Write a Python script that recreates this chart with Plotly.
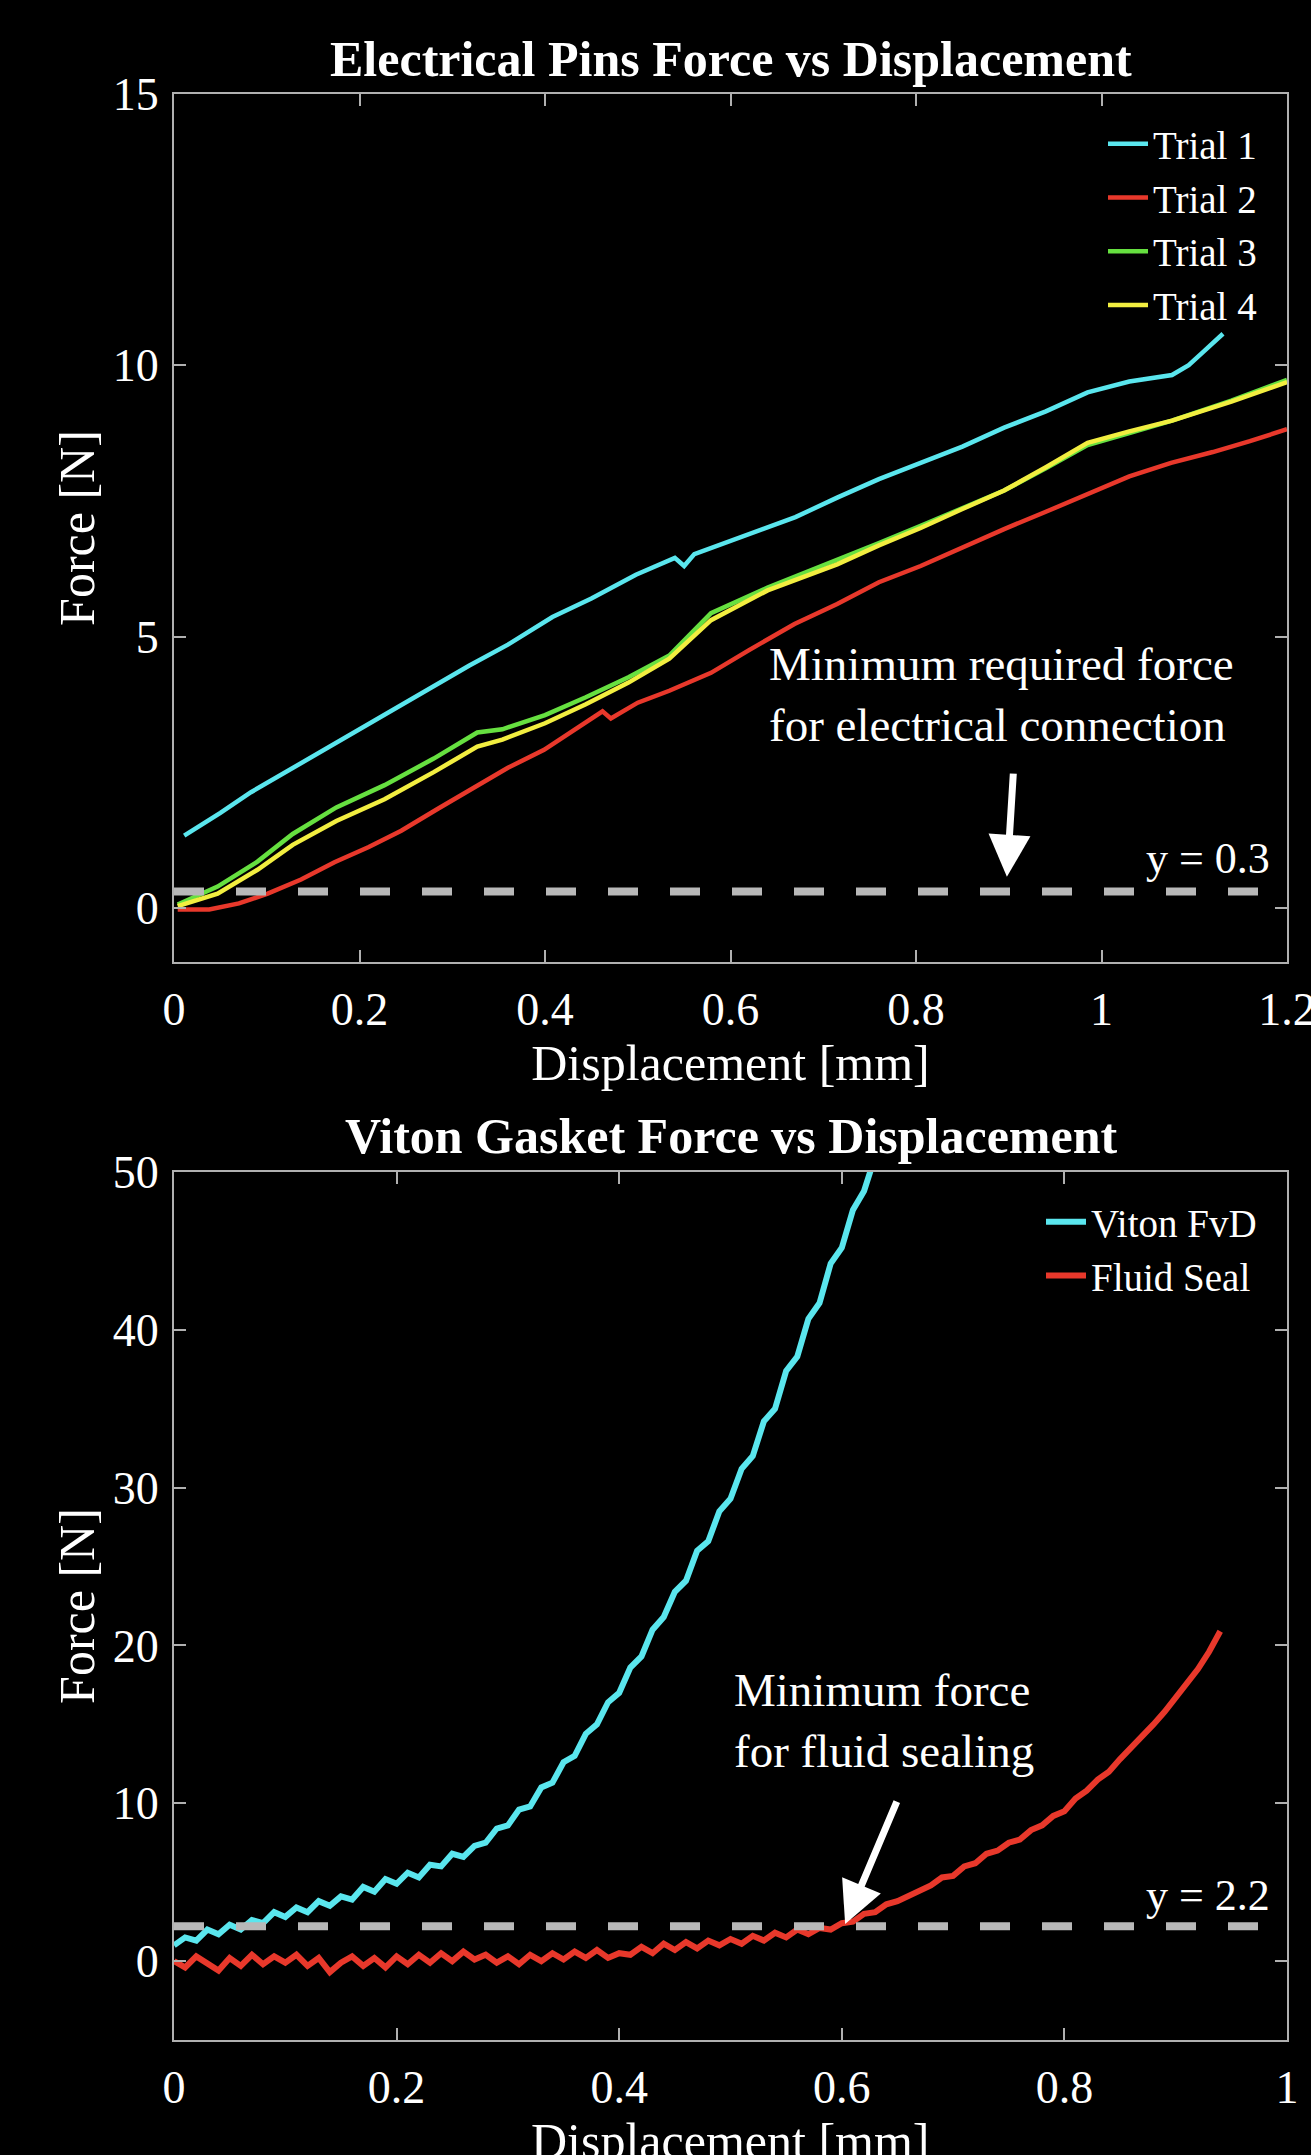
import plotly.graph_objects as go

# ---------------- data: electrical pins ----------------
trial1_x = [0.011, 0.05, 0.083, 0.12, 0.16, 0.2, 0.24, 0.28, 0.318, 0.36, 0.408, 0.45, 0.498, 0.54, 0.55, 0.561, 0.624,
            0.67, 0.715, 0.76, 0.805, 0.85, 0.895, 0.94, 0.985, 1.03, 1.076, 1.094, 1.11, 1.131]
trial1_y = [1.33, 1.75, 2.13, 2.5, 2.9, 3.29, 3.7, 4.1, 4.46, 4.85, 5.36, 5.7, 6.14, 6.45, 6.3, 6.52, 6.91,
            7.2, 7.56, 7.9, 8.2, 8.5, 8.85, 9.15, 9.5, 9.7, 9.82, 10.0, 10.25, 10.58]

trial2_x = [0.004, 0.038, 0.07, 0.101, 0.137, 0.173, 0.21, 0.245, 0.285, 0.327, 0.36, 0.399, 0.43, 0.462, 0.471, 0.5,
            0.534, 0.579, 0.62, 0.669, 0.715, 0.76, 0.805, 0.85, 0.895, 0.94, 0.985, 1.03, 1.075, 1.12, 1.16, 1.2]
trial2_y = [-0.03, -0.03, 0.08, 0.26, 0.52, 0.84, 1.12, 1.42, 1.83, 2.26, 2.58, 2.91, 3.25, 3.62, 3.49, 3.78,
            4.0, 4.33, 4.75, 5.23, 5.6, 6.0, 6.3, 6.65, 6.98, 7.3, 7.62, 7.95, 8.2, 8.4, 8.6, 8.82]

trial3_x = [0.004, 0.047, 0.09, 0.128, 0.175, 0.227, 0.28, 0.327, 0.354, 0.4, 0.444, 0.49, 0.534, 0.579, 0.64,
            0.715, 0.76, 0.805, 0.85, 0.895, 0.94, 0.985, 1.03, 1.076, 1.14, 1.2]
trial3_y = [0.06, 0.39, 0.85, 1.36, 1.85, 2.26, 2.75, 3.23, 3.29, 3.55, 3.88, 4.25, 4.65, 5.43, 5.9,
            6.4, 6.72, 7.04, 7.36, 7.69, 8.1, 8.53, 8.75, 8.98, 9.35, 9.73]

trial4_x = [0.004, 0.047, 0.09, 0.128, 0.175, 0.227, 0.28, 0.327, 0.354, 0.4, 0.444, 0.49, 0.534, 0.579, 0.64,
            0.715, 0.76, 0.805, 0.85, 0.895, 0.94, 0.985, 1.03, 1.076, 1.14, 1.2]
trial4_y = [0.03, 0.26, 0.7, 1.16, 1.6, 2.0, 2.5, 2.97, 3.1, 3.4, 3.75, 4.15, 4.59, 5.3, 5.85,
            6.33, 6.68, 7.0, 7.35, 7.69, 8.12, 8.57, 8.78, 8.98, 9.33, 9.69]

pins_threshold = 0.3

# ---------------- data: viton gasket ----------------
viton_x = [round(i * 0.01, 2) for i in range(0, 65)]
viton_y = [1.0, 1.5, 1.3, 2.0, 1.7, 2.3, 2.0, 2.6, 2.4, 3.1, 2.8, 3.4, 3.1, 3.8, 3.5, 4.1, 3.9, 4.7, 4.4, 5.2,
           4.9, 5.6, 5.3, 6.1, 6.0, 6.8, 6.6, 7.3, 7.5, 8.4, 8.6, 9.6, 9.8, 11.0, 11.3, 12.6, 13.0, 14.4, 15.0,
           16.4, 17.0, 18.6, 19.3, 21.0, 21.8, 23.4, 24.1, 26.0, 26.6, 28.5, 29.3, 31.2, 32.0, 34.2, 35.0, 37.4,
           38.3, 40.7, 41.7, 44.2, 45.2, 47.6, 48.8, 51.0, 52.5]

seal_x = [round(i * 0.01, 2) for i in range(0, 95)]
seal_y = [0.0, -0.4, 0.3, -0.2, -0.6, 0.2, -0.3, 0.4, -0.2, 0.3, -0.1, 0.4, -0.3, 0.2, -0.7, -0.1, 0.3, -0.3,
          0.2, -0.4, 0.3, -0.2, 0.4, -0.1, 0.5, 0.0, 0.6, 0.1, 0.4, -0.1, 0.3, -0.2, 0.4, 0.0, 0.5, 0.1, 0.6,
          0.2, 0.7, 0.2, 0.5, 0.4, 0.9, 0.5, 1.1, 0.7, 1.2, 0.8, 1.3, 1.0, 1.4, 1.1, 1.6, 1.3, 1.8, 1.5, 2.0,
          1.7, 2.1, 2.0, 2.4, 2.5, 3.0, 3.1, 3.6, 3.8, 4.1, 4.5, 4.8, 5.3, 5.4, 6.0, 6.2, 6.8, 7.0, 7.5, 7.7,
          8.3, 8.6, 9.2, 9.5, 10.3, 10.8, 11.5, 12.0, 12.8, 13.5, 14.2, 15.0, 15.8, 16.7, 17.5, 18.5, 19.6, 20.9]

seal_threshold = 2.2

# ---------------- ticks ----------------
x1_ticks = [0, 0.2, 0.4, 0.6, 0.8, 1, 1.2]
x1_labels = ["0", "0.2", "0.4", "0.6", "0.8", "1", "1.2"]
y1_ticks = [0, 5, 10, 15]
x2_ticks = [0, 0.2, 0.4, 0.6, 0.8, 1]
x2_labels = ["0", "0.2", "0.4", "0.6", "0.8", "1"]
y2_ticks = [0, 10, 20, 30, 40, 50]

# ---------------- styling ----------------
FONT = "Liberation Serif, Times New Roman, serif"
CYAN = "#5ae6ee"
RED = "#e8382b"
GREEN = "#66e040"
YELLOW = "#f2ee40"
AXC = "#b0b0b0"
DASHC = "#b8b8b8"

fig = go.Figure()

fig.add_trace(go.Scatter(x=trial1_x, y=trial1_y, mode="lines", name="Trial 1",
                         line=dict(color=CYAN, width=4.5), xaxis="x", yaxis="y", legend="legend"))
fig.add_trace(go.Scatter(x=trial2_x, y=trial2_y, mode="lines", name="Trial 2",
                         line=dict(color=RED, width=4.5), xaxis="x", yaxis="y", legend="legend"))
fig.add_trace(go.Scatter(x=trial3_x, y=trial3_y, mode="lines", name="Trial 3",
                         line=dict(color=GREEN, width=4.5), xaxis="x", yaxis="y", legend="legend"))
fig.add_trace(go.Scatter(x=trial4_x, y=trial4_y, mode="lines", name="Trial 4",
                         line=dict(color=YELLOW, width=4.5), xaxis="x", yaxis="y", legend="legend"))
fig.add_trace(go.Scatter(x=[0, 1.2], y=[pins_threshold, pins_threshold], mode="lines", showlegend=False,
                         line=dict(color=DASHC, width=8, dash="30px,32px"), xaxis="x", yaxis="y"))

fig.add_trace(go.Scatter(x=viton_x, y=viton_y, mode="lines", name="Viton FvD",
                         line=dict(color=CYAN, width=6), xaxis="x2", yaxis="y2", legend="legend2"))
fig.add_trace(go.Scatter(x=seal_x, y=seal_y, mode="lines", name="Fluid Seal",
                         line=dict(color=RED, width=6), xaxis="x2", yaxis="y2", legend="legend2"))
fig.add_trace(go.Scatter(x=[0, 1], y=[seal_threshold, seal_threshold], mode="lines", showlegend=False,
                         line=dict(color=DASHC, width=8, dash="30px,32px"), xaxis="x2", yaxis="y2"))


def axis(**kw):
    d = dict(showline=True, linecolor=AXC, linewidth=2, mirror="allticks", ticks="inside",
             ticklen=12, tickwidth=2, tickcolor=AXC, showgrid=False, zeroline=False, automargin=False,
             ticklabeloverflow="allow",
             tickfont=dict(family=FONT, size=46, color="white"), fixedrange=True)
    d.update(kw)
    return d


W, H = 1311, 2155
xdom = [174 / W, 1287 / W]
y1dom = [1 - 962 / H, 1 - 94 / H]
y2dom = [1 - 2040 / H, 1 - 1172 / H]
title_font = dict(family=FONT, size=50, color="white")

fig.update_layout(
    width=W, height=H,
    paper_bgcolor="black", plot_bgcolor="black",
    margin=dict(l=0, r=0, t=0, b=0, autoexpand=False),
    xaxis=axis(domain=xdom, range=[0, 1.2], tickvals=x1_ticks, ticktext=x1_labels, anchor="y",
               ticklabelstandoff=6,
               title=dict(text="Displacement [mm]", font=title_font, standoff=2)),
    yaxis=axis(domain=y1dom, range=[-1, 15], tickvals=y1_ticks, anchor="x", ticklabelstandoff=4,
               title=dict(text="Force [N]", font=title_font, standoff=2)),
    xaxis2=axis(domain=xdom, range=[0, 1], tickvals=x2_ticks, ticktext=x2_labels, anchor="y2",
                ticklabelstandoff=6),
    yaxis2=axis(domain=y2dom, range=[-5, 50], tickvals=y2_ticks, anchor="x2", ticklabelstandoff=4,
                title=dict(text="Force [N]", font=title_font, standoff=2)),
    legend=dict(x=1262 / W, xanchor="right", y=1 - 112 / H, yanchor="top", bgcolor="rgba(0,0,0,0)",
                font=dict(family=FONT, size=39, color="white"), tracegroupgap=0, itemwidth=40),
    legend2=dict(x=1262 / W, xanchor="right", y=1 - 1190 / H, yanchor="top", bgcolor="rgba(0,0,0,0)",
                 font=dict(family=FONT, size=39, color="white"), tracegroupgap=0, itemwidth=40),
    showlegend=True,
)

ann_font = dict(family=FONT, size=47, color="white")
annotations = [
    dict(text="<b>Electrical Pins Force vs Displacement</b>", xref="x domain", yref="paper", x=0.5,
         y=1 - 59 / H, xanchor="center", yanchor="middle", showarrow=False,
         font=dict(family=FONT, size=50, color="white")),
    dict(text="<b>Viton Gasket Force vs Displacement</b>", xref="x2 domain", yref="paper", x=0.5,
         y=1 - 1136 / H, xanchor="center", yanchor="middle", showarrow=False,
         font=dict(family=FONT, size=50, color="white")),
    dict(text="Displacement [mm]", xref="x2 domain", yref="paper", x=0.5, y=1 - 2141 / H,
         xanchor="center", yanchor="middle", showarrow=False, font=title_font),
    dict(text="Minimum required force<br>for electrical connection", xref="x domain", yref="y",
         x=0.533, y=3.94, xanchor="left", yanchor="middle", align="left", showarrow=False, font=ann_font),
    dict(text="y = 0.3", xref="x domain", yref="y", x=0.9865, y=0.9, xanchor="right", yanchor="middle",
         showarrow=False, font=dict(family=FONT, size=44, color="white")),
    dict(text="", xref="x", yref="y", x=0.898, y=0.57, axref="x", ayref="y", ax=0.905, ay=2.5,
         showarrow=True, arrowhead=2, arrowsize=1.2, arrowwidth=7, arrowcolor="white", standoff=0),
    dict(text="Minimum force<br>for fluid sealing", xref="x2 domain", yref="y2",
         x=0.501, y=15.27, xanchor="left", yanchor="middle", align="left", showarrow=False, font=ann_font),
    dict(text="y = 2.2", xref="x2 domain", yref="y2", x=0.9865, y=4.18, xanchor="right", yanchor="middle",
         showarrow=False, font=dict(family=FONT, size=44, color="white")),
    dict(text="", xref="x2", yref="y2", x=0.603, y=2.35, axref="x2", ayref="y2", ax=0.65, ay=10.2,
         showarrow=True, arrowhead=2, arrowsize=1.2, arrowwidth=7, arrowcolor="white", standoff=0),
]
fig.update_layout(annotations=annotations)

fig.write_html(
    "out.html",
    config={"displayModeBar": False},
    post_script="document.body.style.margin='0';document.body.style.padding='0';"
                "document.body.style.background='black';document.documentElement.style.overflow='hidden';",
)
